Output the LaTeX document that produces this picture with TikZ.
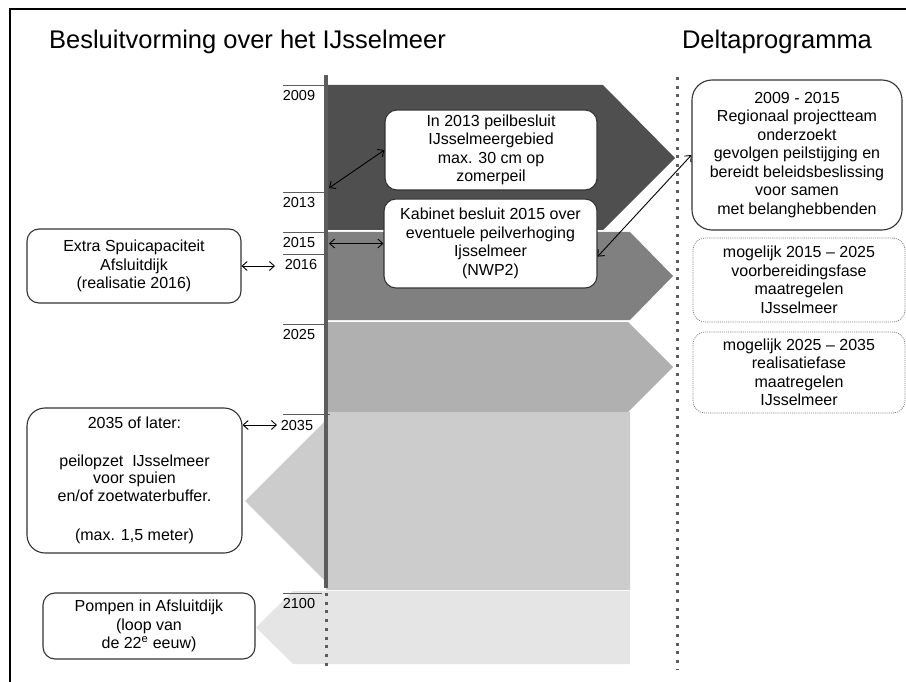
\documentclass[tikz,border=0pt]{standalone}
\usepackage{fontspec}
\setmainfont{Liberation Sans}
\usetikzlibrary{arrows.meta}
\definecolor{phaseone}{gray}{0.31}
\definecolor{phasetwo}{gray}{0.50}
\definecolor{phasethree}{gray}{0.69}
\definecolor{phasefour}{gray}{0.80}
\definecolor{phasefive}{gray}{0.90}
\definecolor{boxline}{gray}{0.20}
\definecolor{axisgray}{gray}{0.36}
\begin{document}
\begin{tikzpicture}[x=1pt, y=-1pt,
    box/.style = {draw=boxline, line width=1.1pt, rounded corners=12pt, fill=white, align=center,
                  inner sep=0pt, font=\fontsize{16}{18.5}\selectfont},
    maybe/.style = {box, draw=gray, densely dotted, line width=0.7pt},
    year/.style = {inner sep=0pt, font=\fontsize{14.5}{16}\selectfont},
    tick/.style = {draw=axisgray, line width=0.8pt},
    title/.style = {inner sep=0pt, font=\fontsize{25.5}{30}\selectfont},
    link/.style = {<->, >={Straight Barb[length=5pt,width=9pt]}, line width=0.9pt},
    dots/.style = {draw=axisgray, line width=3pt, dash pattern=on 3pt off 5.7pt}]
    \useasboundingbox (0,0) rectangle (906,682);
    \draw[line width=2.5pt] (10,682) -- (10,9) -- (906,9);

    % titels
    \node[title] (links) at (247.5,42) {Besluitvorming over het IJsselmeer};
    \node[title] (rechts) at (777,42) {Deltaprogramma};

    % fasen
    \fill[phaseone] (326,85) -- (603,85) -- (675,158) -- (603,230) -- (326,230) -- cycle;
    \fill[phasetwo] (326,232) -- (630,232) -- (673,276) -- (630,320) -- (326,320) -- cycle;
    \fill[phasethree] (326,322) -- (628,322) -- (673,367) -- (628,412) -- (326,412) -- cycle;
    \fill[phasefour] (326,412) -- (630,412) -- (630,590) -- (326,590) -- (326,582)
        -- (245,501) -- (326,420) -- cycle;
    \fill[phasefive] (293,591) -- (630,591) -- (630,664) -- (293,664) -- (256,627.5) -- cycle;

    % tijdlijn
    \draw[axisgray, line width=4pt] (326,75) -- (326,588);
    \draw[dots] (326,593) -- (326,666);
    \draw[dots] (677,77) -- (677,670);

    \draw[tick] (283,85) -- (326,85);
    \draw[tick] (283,192) -- (326,192);
    \draw[tick] (283,232) -- (326,232);
    \draw[tick] (283,254) -- (326,254);
    \draw[tick] (283,324) -- (326,324);
    \draw[tick] (283,414) -- (330,414);
    \draw[tick] (283,593) -- (322,593);
    \node[year] (y1) at (299,95.5) {2009};
    \node[year] (y2) at (299,202.5) {2013};
    \node[year] (y3) at (299,242.5) {2015};
    \node[year] (y4) at (301,265) {2016};
    \node[year] (y5) at (299,335) {2025};
    \node[year] (y6) at (297,426) {2035};
    \node[year] (y7) at (299,604) {2100};

    % besluiten
    \node[box, minimum width=212pt, minimum height=80pt] (A) at (491,150)
        {In 2013 peilbesluit\\ IJsselmeergebied\\ max. 30 cm op\\ zomerpeil};
    \node[box, minimum width=213pt, minimum height=89pt] (B) at (490.5,243.5)
        {Kabinet besluit 2015 over\\ eventuele peilverhoging\\ Ijsselmeer\\ (NWP2)};
    \node[box, rounded corners=20pt, minimum width=210pt, minimum height=150pt] (C) at (797,155)
        {2009 - 2015\\ Regionaal projectteam\\ onderzoekt\\ gevolgen peilstijging en\\
         bereidt beleidsbeslissing\\ voor samen\\ met belanghebbenden};
    \node[maybe, minimum width=212pt, minimum height=84pt] (D) at (799,280)
        {mogelijk 2015 -- 2025\\ voorbereidingsfase\\ maatregelen\\ IJsselmeer};
    \node[maybe, minimum width=212pt, minimum height=81pt] (E) at (799,372.5)
        {mogelijk 2025 -- 2035\\ realisatiefase\\ maatregelen\\ IJsselmeer};
    \node[box, minimum width=214pt, minimum height=74pt] (F) at (134,266)
        {Extra Spuicapaciteit\\ Afsluitdijk\\ (realisatie 2016)};
    \node[box, rounded corners=18pt, minimum width=215pt, minimum height=145pt,
          font=\fontsize{16}{17.5}\selectfont] (G) at (134.5,480.5)
        {2035 of later:\\[20pt] peilopzet\ \ IJsselmeer\\ voor spuien\\ en/of zoetwaterbuffer.\\[22pt]
         (max. 1,5 meter)};
    \node[box, minimum width=212pt, minimum height=66pt] (H) at (149,626)
        {Pompen in Afsluitdijk\\ (loop van\\ de 22\textsuperscript{e} eeuw)};

    % verbindingen
    \coordinate (c1) at (329,188);
    \coordinate (c2) at (329,243.5);
    \coordinate (c4) at (275,266);
    \coordinate (c5) at (277,425);
    \draw[link] (c1) -- (A.west);
    \draw[link] (c2) -- (B.west);
    \draw[link] (B.-7) -- (C.west);
    \draw[link] (F.east) -- (c4);
    \draw[link] (G.east |- c5) -- (c5);
\end{tikzpicture}
\end{document}
